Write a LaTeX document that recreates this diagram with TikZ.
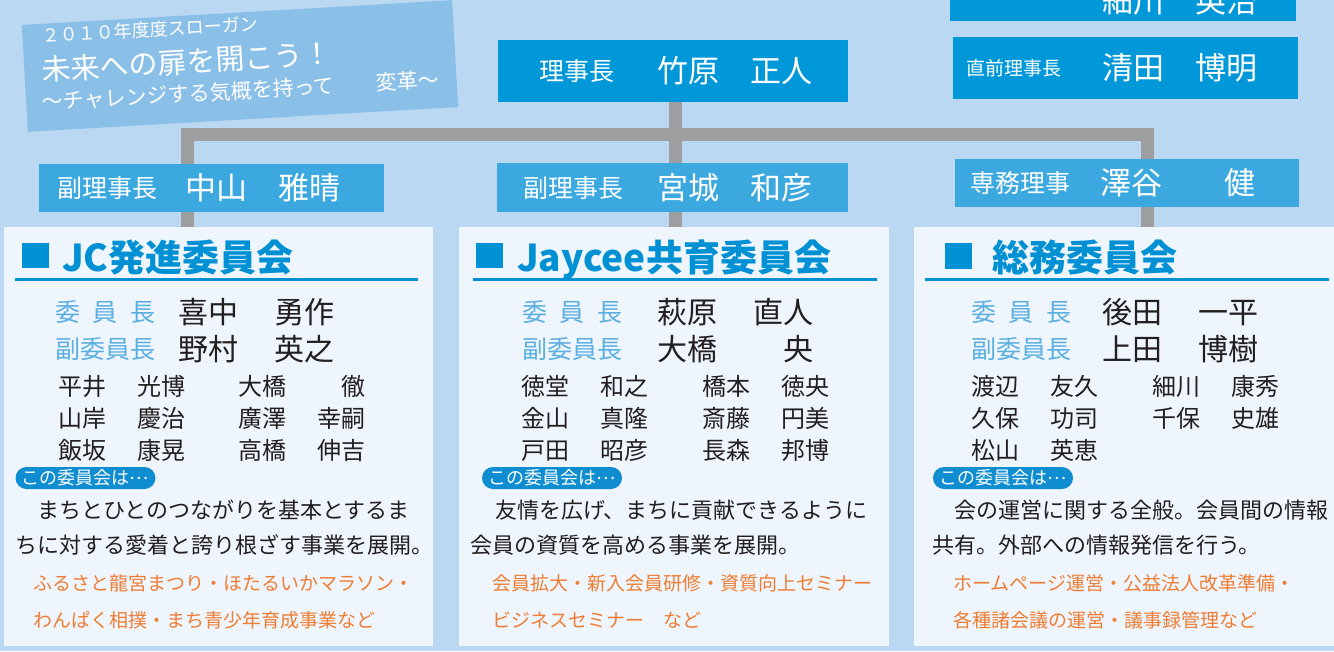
\documentclass[tikz,border=0pt]{standalone}
\usepackage{fontspec}
\setmainfont{Noto Sans CJK JP}
\definecolor{bgblue}{HTML}{BAD8F1}
\definecolor{slogan}{HTML}{8ABFE8}
\definecolor{chiefblue}{HTML}{0098D8}
\definecolor{viceblue}{HTML}{3CA8E0}
\definecolor{linegray}{HTML}{9D9EA0}
\definecolor{panelbg}{HTML}{EEF5FC}
\definecolor{titleblue}{HTML}{0090D4}
\definecolor{labelblue}{HTML}{5AAFE0}
\definecolor{tagblue}{HTML}{0E8DD0}
\definecolor{orangetxt}{HTML}{EE7D33}
\definecolor{inktxt}{HTML}{231F20}
\newcommand{\setfs}[1]{\fontsize{#1}{#1}\selectfont}
\newcommand{\cname}[2]{\makebox[96pt][l]{#1}\makebox[60pt][r]{#2}}
\newcommand{\mname}[2]{\makebox[77pt][l]{#1}\makebox[50pt][r]{#2}}
\newcommand{\iinchou}{\makebox[100pt][s]{委\hfill 員\hfill 長}}
\newcommand{\tagtext}{この委員会は\raisebox{0.32em}{…}}
\begin{document}
\begin{tikzpicture}[x=1pt,y=-1pt,
  tx/.style={font=\setfs{#1},inner sep=0pt,anchor=west,text height=0.88*#1,text depth=0.12*#1},
  box/.style={fill=#1,inner sep=0pt},
  link/.style={draw=linegray,line width=13pt},
  hd/.style={tx=#1,text=white},
  ttl/.style={tx=37,text=titleblue,font=\setfs{37}\bfseries},
  lbl/.style={tx=25,text=labelblue},
  chair/.style={tx=30,text=inktxt},
  mem/.style={tx=24,text=inktxt},
  tag/.style={fill=tagblue,text=white,rounded corners=11pt,minimum width=140pt,minimum height=22pt,inner sep=0pt,font=\setfs{18}},
  desc/.style={tx=22,text=inktxt},
  act/.style={tx=19,text=orangetxt}]
\useasboundingbox (0,0) rectangle (1334,651);
\clip (0,0) rectangle (1334,651);
\fill[bgblue] (0,0) rectangle (1334,651);
% slogan
\node[box=slogan,rotate=3.3,minimum width=431pt,minimum height=107pt] (slg) at (240,66) {};
\node[hd=18,rotate=3.3] (slg1) at (42,36) {２０１０年度度スローガン};
\node[hd=29,rotate=3.3] (slg2) at (42,70) {未来への扉を開こう！};
\node[hd=21,rotate=3.3] (slg3) at (42,102) {～チャレンジする気概を持って　　変革～};
% top boxes
\node[box=chiefblue,minimum width=346pt,minimum height=62pt] (prevT) at (1123,-10) {};
\node[hd=31] (prevTn) at (1102,1) {細川　英治};
\node[box=chiefblue,minimum width=345pt,minimum height=62pt] (prevC) at (1125.5,68) {};
\node[hd=19] (prevCt) at (966,68) {直前理事長};
\node[hd=31] (prevCn) at (1102,68) {清田　博明};
\node[box=chiefblue,minimum width=350pt,minimum height=62pt] (chief) at (673,71) {};
\node[hd=25] (chiefT) at (539,71) {理事長};
\node[hd=31] (chiefN) at (657,71) {竹原　正人};
% vice
\node[box=viceblue,minimum width=345pt,minimum height=48pt] (vcL) at (211.5,188) {};
\node[hd=25] (vcLt) at (57,188) {副理事長};
\node[hd=31] (vcLn) at (185,188) {中山　雅晴};
\node[box=viceblue,minimum width=351pt,minimum height=49pt] (vcM) at (672.5,187.5) {};
\node[hd=25] (vcMt) at (523,188) {副理事長};
\node[hd=31] (vcMn) at (657,188) {宮城　和彦};
\node[box=viceblue,minimum width=344pt,minimum height=48pt] (vcR) at (1127,183) {};
\node[hd=25] (vcRt) at (970,183) {専務理事};
\node[hd=31] (vcRn) at (1100,183) {澤谷　　健};
% panels
\node[box=panelbg,minimum width=429pt,minimum height=419pt] (pL) at (218.5,436.5) {};
\node[box=panelbg,minimum width=430pt,minimum height=419pt] (pM) at (674,436.5) {};
\node[box=panelbg,minimum width=426pt,minimum height=419pt] (pR) at (1127,436.5) {};
% lines
\coordinate (jL) at (187,134.5);
\coordinate (jM) at (675,134.5);
\coordinate (jR) at (1147,134.5);
\draw[link,line cap=rect] (jL) -- (jR);
\draw[link] (jM |- chief.south) -- (jM |- vcM.north);
\draw[link] (jL) -- (jL |- vcL.north);
\draw[link] (jR) -- (jR |- vcR.north);
\draw[link] (jL |- vcL.south) -- (jL |- pL.north);
\draw[link] (jM |- vcM.south) -- (jM |- pM.north);
\draw[link] (jR |- vcR.south) -- (jR |- pR.north);
% JC
\fill[titleblue] (22,243) rectangle (49,268);
\node[ttl] (lT) at (62,257) {JC発進委員会};
\draw[titleblue,line width=3pt] (15,279) -- (418,279);
\node[lbl] (lL1) at (55,312) {\iinchou};
\node[chair] (lC1) at (178,312) {\cname{喜中}{勇作}};
\node[lbl] (lL2) at (55,349) {副委員長};
\node[chair] (lC2) at (178,349) {\cname{野村}{英之}};
\node[mem] (lM1) at (58,386) {\mname{平井}{光博}};
\node[mem] (lM2) at (58,418) {\mname{山岸}{慶治}};
\node[mem] (lM3) at (58,450) {\mname{飯坂}{康晃}};
\node[mem] (lM4) at (238,386) {\mname{大橋}{徹}};
\node[mem] (lM5) at (238,418) {\mname{廣澤}{幸嗣}};
\node[mem] (lM6) at (238,450) {\mname{高橋}{伸吉}};
\node[tag] (lTag) at (85.5,478) {\tagtext};
\node[desc] (lD1) at (15,510) {　まちとひとのつながりを基本とするま};
\node[desc] (lD2) at (15,545) {ちに対する愛着と誇り根ざす事業を展開。};
\node[act] (lA1) at (33,583) {ふるさと龍宮まつり・ほたるいかマラソン・};
\node[act] (lA2) at (33,620) {わんぱく相撲・まち青少年育成事業など};
% Jaycee
\fill[titleblue] (476,243) rectangle (503,268);
\node[ttl] (mT) at (517,257) {Jaycee共育委員会};
\draw[titleblue,line width=3pt] (473,279) -- (877,279);
\node[lbl] (mL1) at (522,312) {\iinchou};
\node[chair] (mC1) at (657,312) {\cname{萩原}{直人}};
\node[lbl] (mL2) at (522,349) {副委員長};
\node[chair] (mC2) at (657,349) {\cname{大橋}{央}};
\node[mem] (mM1) at (521,386) {\mname{徳堂}{和之}};
\node[mem] (mM2) at (521,418) {\mname{金山}{真隆}};
\node[mem] (mM3) at (521,450) {\mname{戸田}{昭彦}};
\node[mem] (mM4) at (702,386) {\mname{橋本}{徳央}};
\node[mem] (mM5) at (702,418) {\mname{斎藤}{円美}};
\node[mem] (mM6) at (702,450) {\mname{長森}{邦博}};
\node[tag] (mTag) at (552,478) {\tagtext};
\node[desc] (mD1) at (473,510) {　友情を広げ、まちに貢献できるように};
\node[desc] (mD2) at (470,545) {会員の資質を高める事業を展開。};
\node[act] (mA1) at (492,583) {会員拡大・新入会員研修・資質向上セミナー};
\node[act] (mA2) at (492,620) {ビジネスセミナー　など};
% somu
\fill[titleblue] (945,243) rectangle (972,269);
\node[ttl] (rT) at (992,257) {総務委員会};
\draw[titleblue,line width=3pt] (925,279) -- (1329,279);
\node[lbl] (rL1) at (971,312) {\iinchou};
\node[chair] (rC1) at (1102,312) {\cname{後田}{一平}};
\node[lbl] (rL2) at (971,349) {副委員長};
\node[chair] (rC2) at (1102,349) {\cname{上田}{博樹}};
\node[mem] (rM1) at (971,386) {\mname{渡辺}{友久}};
\node[mem] (rM2) at (971,418) {\mname{久保}{功司}};
\node[mem] (rM3) at (971,450) {\mname{松山}{英恵}};
\node[mem] (rM4) at (1152,386) {\mname{細川}{康秀}};
\node[mem] (rM5) at (1152,418) {\mname{千保}{史雄}};
\node[tag] (rTag) at (1003,478) {\tagtext};
\node[desc] (rD1) at (932,510) {　会の運営に関する全般。会員間の情報};
\node[desc] (rD2) at (932,545) {共有。外部への情報発信を行う。};
\node[act] (rA1) at (953,583) {ホームページ運営・公益法人改革準備・};
\node[act] (rA2) at (953,620) {各種諸会議の運営・議事録管理など};
\end{tikzpicture}
\end{document}
